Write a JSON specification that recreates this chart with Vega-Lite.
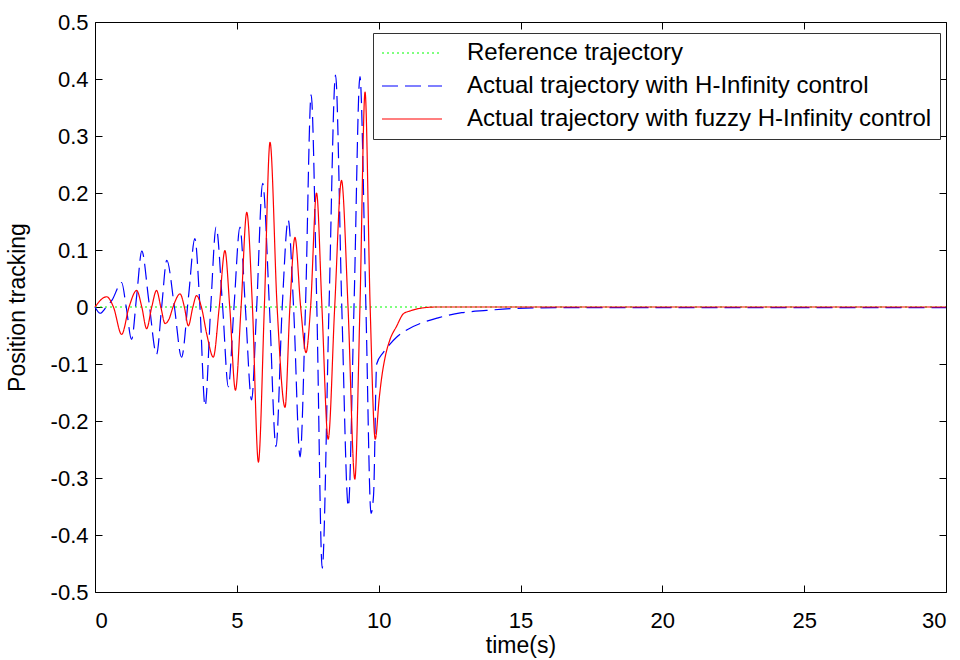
{
  "$schema": "https://vega.github.io/schema/vega-lite/v6.json",
  "width": 851,
  "height": 570,
  "autosize": {"type": "none"},
  "padding": {"left": 95, "top": 22, "right": 14, "bottom": 68},
  "background": "white",
  "config": {
    "font": "Liberation Sans",
    "view": {"stroke": "#000000", "strokeWidth": 1},
    "axis": {"grid": false, "domain": false, "tickColor": "#000000", "tickSize": -7, "labelColor": "#000000", "titleColor": "#000000", "labelFontSize": 22, "titleFontSize": 23, "titleFontWeight": "normal", "labelFont": "Liberation Sans", "titleFont": "Liberation Sans"}
  },
  "datasets": {
    "ref": [
      {"t": 0, "y": 0}, {"t": 30, "y": 0}
    ],
    "hinf": [
      {"t": 0, "y": 0}, {"t": 0.18, "y": -0.011}, {"t": 0.4, "y": 0.0}, {"t": 0.6, "y": 0.012}, {"t": 0.94, "y": 0.043}, {"t": 1.1, "y": 0.0}, {"t": 1.29, "y": -0.057}, {"t": 1.47, "y": 0.02}, {"t": 1.65, "y": 0.098}, {"t": 1.9, "y": 0.01}, {"t": 2.17, "y": -0.083}, {"t": 2.35, "y": 0.0}, {"t": 2.53, "y": 0.082}, {"t": 2.8, "y": 0.0}, {"t": 3.05, "y": -0.088}, {"t": 3.3, "y": 0.02}, {"t": 3.52, "y": 0.12}, {"t": 3.7, "y": 0.0}, {"t": 3.88, "y": -0.174}, {"t": 4.08, "y": 0.0}, {"t": 4.27, "y": 0.14}, {"t": 4.5, "y": 0.0}, {"t": 4.7, "y": -0.14}, {"t": 4.9, "y": 0.0}, {"t": 5.11, "y": 0.14}, {"t": 5.3, "y": 0.0}, {"t": 5.52, "y": -0.163}, {"t": 5.7, "y": 0.0}, {"t": 5.91, "y": 0.217}, {"t": 6.15, "y": 0.0}, {"t": 6.38, "y": -0.245}, {"t": 6.6, "y": 0.0}, {"t": 6.81, "y": 0.153}, {"t": 7.0, "y": 0.0}, {"t": 7.23, "y": -0.263}, {"t": 7.42, "y": 0.0}, {"t": 7.62, "y": 0.372}, {"t": 7.82, "y": 0.0}, {"t": 8.01, "y": -0.458}, {"t": 8.25, "y": 0.0}, {"t": 8.48, "y": 0.407}, {"t": 8.7, "y": 0.0}, {"t": 8.93, "y": -0.35}, {"t": 9.13, "y": 0.0}, {"t": 9.34, "y": 0.404}, {"t": 9.55, "y": 0.0}, {"t": 9.73, "y": -0.362}, {"t": 9.82, "y": -0.33}, {"t": 9.93, "y": -0.1}, {"t": 10.16, "y": -0.08}, {"t": 10.4, "y": -0.065}, {"t": 10.63, "y": -0.053}, {"t": 10.93, "y": -0.042}, {"t": 11.57, "y": -0.027}, {"t": 12.1, "y": -0.019}, {"t": 12.4, "y": -0.015}, {"t": 12.93, "y": -0.01}, {"t": 13.8, "y": -0.006}, {"t": 14.63, "y": -0.003}, {"t": 15.5, "y": -0.0015}, {"t": 17, "y": -0.001}, {"t": 30, "y": -0.001}
    ],
    "fuzzy": [
      {"t": 0, "y": 0}, {"t": 0.41, "y": 0.018}, {"t": 0.65, "y": 0.0}, {"t": 0.94, "y": -0.048}, {"t": 1.2, "y": 0.0}, {"t": 1.47, "y": 0.029}, {"t": 1.65, "y": 0.0}, {"t": 1.82, "y": -0.038}, {"t": 2.0, "y": 0.0}, {"t": 2.17, "y": 0.029}, {"t": 2.32, "y": 0.0}, {"t": 2.47, "y": -0.029}, {"t": 2.62, "y": -0.02}, {"t": 2.75, "y": 0.0}, {"t": 3.0, "y": 0.023}, {"t": 3.15, "y": 0.0}, {"t": 3.29, "y": -0.033}, {"t": 3.45, "y": 0.0}, {"t": 3.58, "y": 0.02}, {"t": 3.75, "y": 0.0}, {"t": 3.95, "y": -0.05}, {"t": 4.17, "y": -0.088}, {"t": 4.38, "y": 0.0}, {"t": 4.58, "y": 0.099}, {"t": 4.75, "y": 0.0}, {"t": 4.95, "y": -0.146}, {"t": 5.15, "y": 0.0}, {"t": 5.35, "y": 0.166}, {"t": 5.55, "y": 0.0}, {"t": 5.76, "y": -0.272}, {"t": 5.97, "y": 0.0}, {"t": 6.17, "y": 0.289}, {"t": 6.42, "y": 0.0}, {"t": 6.7, "y": -0.176}, {"t": 6.87, "y": 0.0}, {"t": 7.05, "y": 0.122}, {"t": 7.25, "y": 0.0}, {"t": 7.44, "y": -0.08}, {"t": 7.6, "y": 0.0}, {"t": 7.81, "y": 0.2}, {"t": 8.0, "y": 0.0}, {"t": 8.22, "y": -0.232}, {"t": 8.45, "y": 0.0}, {"t": 8.69, "y": 0.222}, {"t": 8.92, "y": 0.0}, {"t": 9.16, "y": -0.302}, {"t": 9.34, "y": 0.0}, {"t": 9.52, "y": 0.377}, {"t": 9.7, "y": 0.0}, {"t": 9.88, "y": -0.232}, {"t": 10.02, "y": -0.16}, {"t": 10.1, "y": -0.126}, {"t": 10.22, "y": -0.09}, {"t": 10.4, "y": -0.057}, {"t": 10.63, "y": -0.034}, {"t": 10.87, "y": -0.012}, {"t": 11.1, "y": -0.007}, {"t": 11.5, "y": -0.002}, {"t": 12, "y": 0}, {"t": 30, "y": 0}
    ]
  },
  "layer": [
    {
      "layer": [
        {
          "data": {"name": "ref"},
          "transform": [{"calculate": "'ref'", "as": "series"}],
          "mark": {"type": "line", "strokeWidth": 1.2, "interpolate": "monotone"},
          "encoding": {
            "x": {"field": "t", "type": "quantitative"},
            "y": {"field": "y", "type": "quantitative"},
            "color": {"field": "series", "type": "nominal"},
            "strokeDash": {"field": "series", "type": "nominal"}
          }
        },
        {
          "data": {"name": "hinf"},
          "transform": [{"calculate": "'hinf'", "as": "series"}],
          "mark": {"type": "line", "strokeWidth": 1.2, "interpolate": "monotone"},
          "encoding": {
            "x": {"field": "t", "type": "quantitative"},
            "y": {"field": "y", "type": "quantitative"},
            "color": {"field": "series", "type": "nominal"},
            "strokeDash": {"field": "series", "type": "nominal"}
          }
        },
        {
          "data": {"name": "fuzzy"},
          "transform": [{"calculate": "'fuzzy'", "as": "series"}],
          "mark": {"type": "line", "strokeWidth": 1.2, "interpolate": "monotone"},
          "encoding": {
            "x": {"field": "t", "type": "quantitative", "scale": {"domain": [0, 30], "nice": false}, "axis": {"orient": "bottom", "values": [0, 5, 10, 15, 20, 25, 30], "title": "time(s)", "labelPadding": 25, "titlePadding": 3}},
            "y": {"field": "y", "type": "quantitative", "scale": {"domain": [-0.5, 0.5], "nice": false}, "axis": {"orient": "left", "values": [-0.5, -0.4, -0.3, -0.2, -0.1, 0, 0.1, 0.2, 0.3, 0.4, 0.5], "labelExpr": "replace(format(datum.value, '.1~f'), '\u2212', '-')", "title": "Position tracking", "labelPadding": 14, "titlePadding": 21}},
            "color": {"field": "series", "type": "nominal", "scale": {"domain": ["ref", "hinf", "fuzzy"], "range": ["#00ff00", "#0000ff", "#ff0000"]}, "legend": {"orient": "none", "legendX": 278, "legendY": 11, "title": null, "symbolType": "stroke", "symbolSize": 3600, "symbolStrokeWidth": 1.2, "clipHeight": 24, "rowPadding": 9, "labelFontSize": 24, "labelFont": "Liberation Sans", "labelColor": "#000000", "labelOffset": 24, "labelLimit": 700, "padding": 8, "strokeColor": "#333333", "fillColor": "#ffffff", "labelExpr": "datum.label == 'ref' ? 'Reference trajectory' : datum.label == 'hinf' ? 'Actual trajectory with H-Infinity control' : 'Actual trajectory with fuzzy H-Infinity control'"}},
            "strokeDash": {"field": "series", "type": "nominal", "scale": {"domain": ["ref", "hinf", "fuzzy"], "range": [[2, 3], [16, 7], [1, 0]]}, "legend": null}
          }
        }
      ]
    },
    {
      "data": {"name": "ref"},
      "mark": {"type": "line", "opacity": 0},
      "encoding": {
        "x": {"field": "t", "type": "quantitative", "axis": {"orient": "top", "values": [0, 5, 10, 15, 20, 25, 30], "labels": false, "title": null}},
        "y": {"field": "y", "type": "quantitative", "axis": {"orient": "right", "values": [-0.5, -0.4, -0.3, -0.2, -0.1, 0, 0.1, 0.2, 0.3, 0.4, 0.5], "labels": false, "title": null}}
      }
    }
  ],
  "resolve": {"axis": {"x": "independent", "y": "independent"}}
}
